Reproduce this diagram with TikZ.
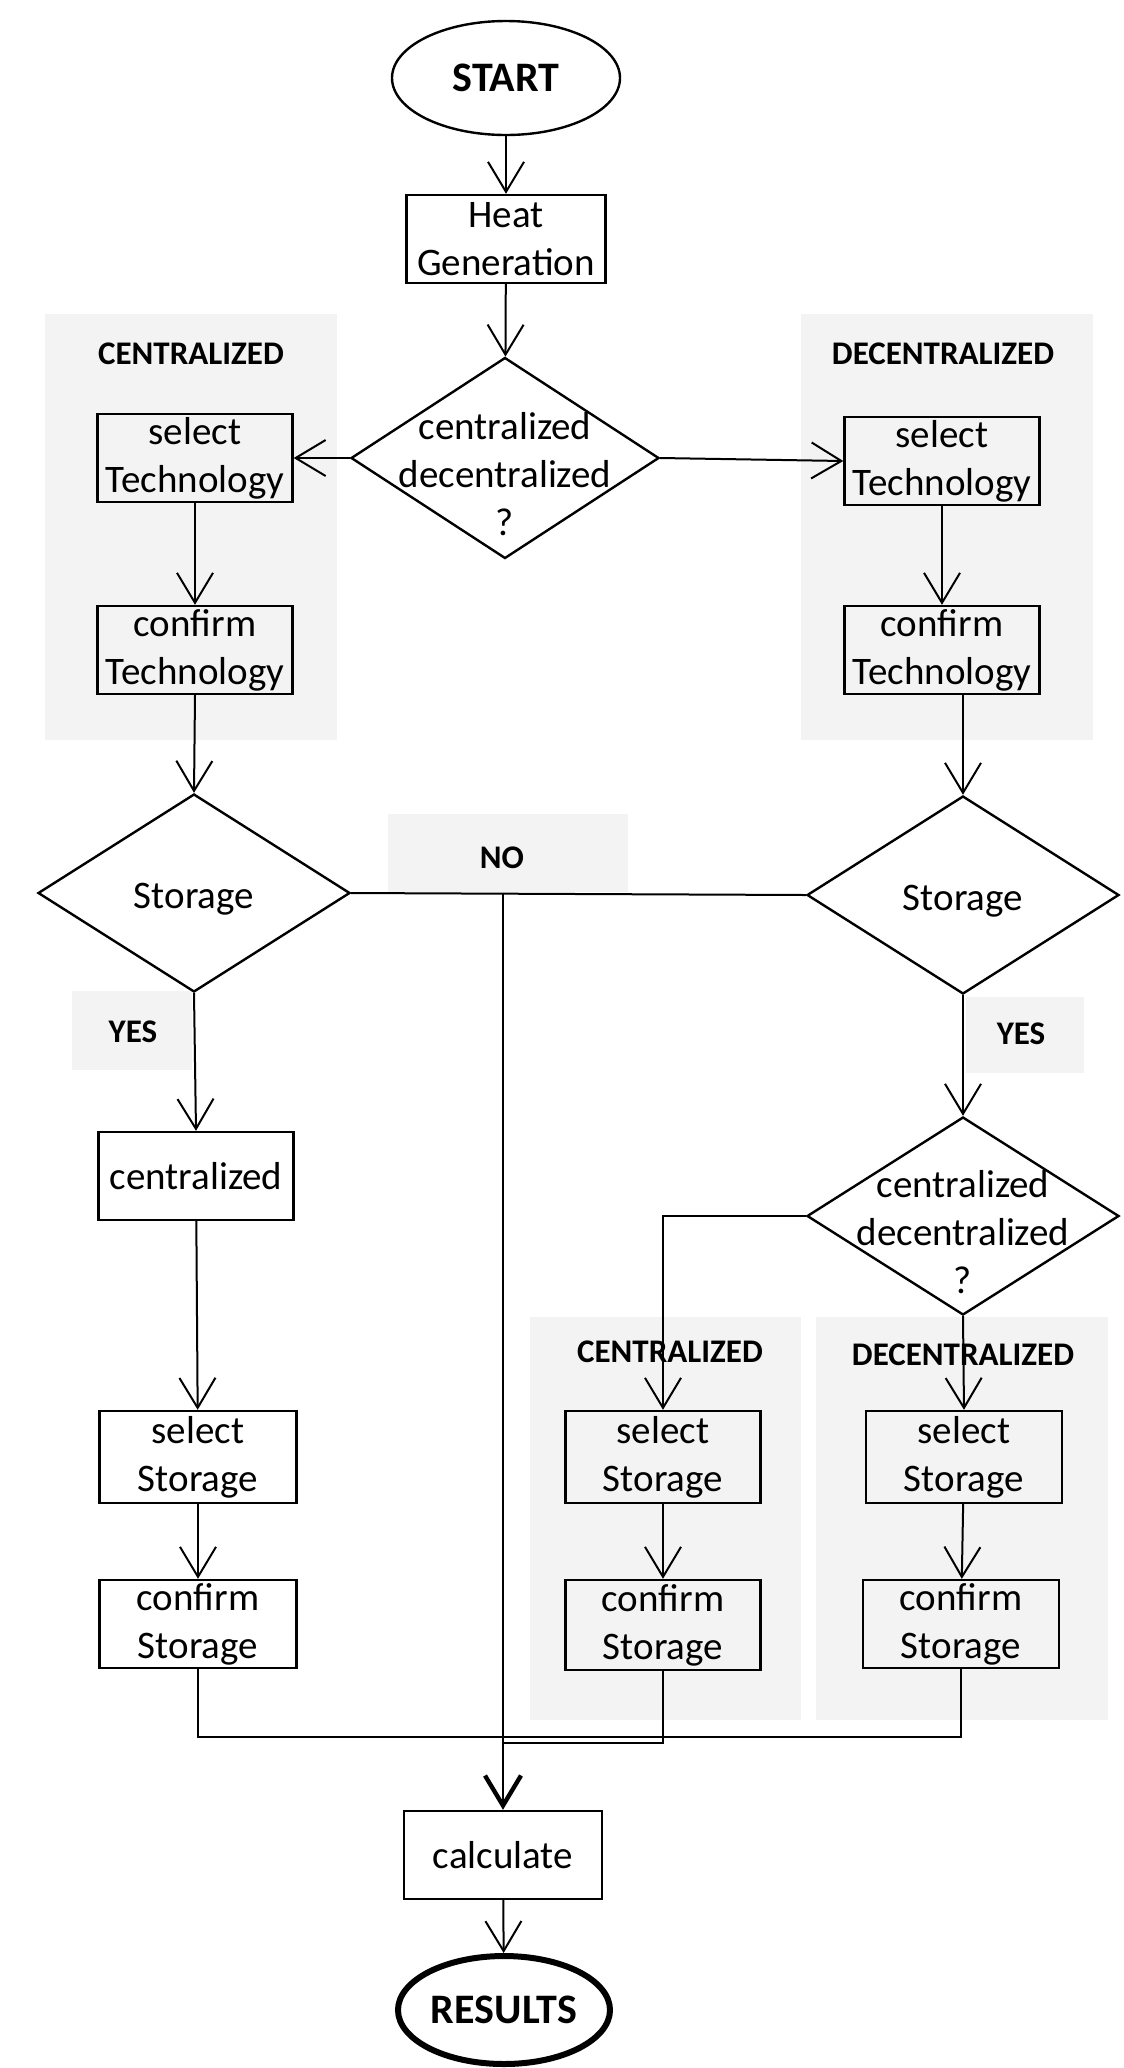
\documentclass[tikz,border=0pt]{standalone}
\usepackage{fontspec}
\setmainfont{Carlito}
\usetikzlibrary{shapes.geometric,arrows.meta}
\definecolor{panelgray}{RGB}{243,243,243}

\begin{document}
\begin{tikzpicture}[x=0.5pt,y=-0.5pt,
  every node/.style={font=\fontsize{19.5}{24}\selectfont},
  box/.style={draw,line width=1.2pt,minimum width=97.5pt,minimum height=44pt,inner sep=0pt,align=center},
  ask/.style={draw,diamond,line width=1.2pt,minimum width=156pt,minimum height=99pt,inner sep=0pt},
  term/.style={draw,ellipse,line width=1.2pt,minimum width=114pt,minimum height=57pt,inner sep=0pt,font=\bfseries\fontsize{21}{25}\selectfont},
  panel/.style={fill=panelgray},
  tag/.style={font=\bfseries\fontsize{16.5}{19}\selectfont},
  flow/.style={line width=1pt,-{Straight Barb[length=15pt,width=18pt]}},
  bigflow/.style={line width=1pt,-{Straight Barb[length=15pt,width=18pt,line width=2.2pt]}},
  line/.style={line width=1pt}]
% 1124px x 2068px, y runs downward
\useasboundingbox (0,0) rectangle (1124,2068);

% grey panels
\path[panel] (45,314) rectangle (337,740);
\path[panel] (801,314) rectangle (1093,740);
\path[panel] (388,814) rectangle (628,892);
\path[panel] (72,991) rectangle (192,1070);
\path[panel] (966,997) rectangle (1084,1073);
\path[panel] (530,1317) rectangle (801,1720);
\path[panel] (816,1317) rectangle (1108,1720);

\node[tag] (tagcl) at (191,354) {CENTRALIZED};
\node[tag] (tagdr) at (943,354) {DECENTRALIZED};
\node[tag] (tagno) at (502,858) {NO};
\node[tag] (tagyl) at (133,1032) {YES};
\node[tag] (tagyr) at (1021,1034) {YES};
\node[tag] (tagcm) at (670,1352) {CENTRALIZED};
\node[tag] (tagdm) at (963,1355) {DECENTRALIZED};

% main flow
\node[term] (start) at (506,78) {START};
\node[box,minimum width=99.5pt] (heat) at (506,239) {Heat\\Generation};
\node[ask,minimum width=154pt,minimum height=100.5pt,
  label={[align=center,yshift=-8pt]center:centralized\\decentralized\\?}] (way) at (505,458) {};

\node[box] (lseltech) at (195,458) {select\\Technology};
\node[box] (lcontech) at (195,650) {confirm\\Technology};
\node[box] (rseltech) at (942,461) {select\\Technology};
\node[box] (rcontech) at (942,650) {confirm\\Technology};

\node[ask,label={[yshift=-3pt]center:Storage}] (lstore) at (194,893) {};
\node[ask,label={[yshift=-3pt]center:Storage}] (rstore) at (963,895) {};

\node[box] (lcent) at (196,1176) {centralized};
\node[box,minimum width=98.5pt,minimum height=46pt] (lselstor) at (198,1457) {select\\Storage};
\node[box,minimum width=98.5pt,minimum height=44pt] (lconstor) at (198,1624) {confirm\\Storage};

\node[ask,label={[align=center,yshift=-8pt]center:centralized\\decentralized\\?}] (rway) at (963,1216) {};
\node[box,minimum width=97.5pt,minimum height=46pt] (mselstor) at (663,1457) {select\\Storage};
\node[box,minimum width=97.5pt,minimum height=45pt] (mconstor) at (663,1625) {confirm\\Storage};
\node[box,minimum width=98pt,minimum height=46pt] (rselstor) at (964,1457) {select\\Storage};
\node[box,minimum width=98pt,minimum height=44pt] (rconstor) at (961,1624) {confirm\\Storage};

\node[box,minimum width=99pt] (calc) at (503,1855) {calculate};
\node[term,line width=3pt,minimum width=106pt,minimum height=54pt] (results) at (504,2010) {RESULTS};

\coordinate (join) at (calc.north |- 0,1743);

\draw[flow] (start) -- (heat);
\draw[flow] (heat) -- (way);
\draw[flow] (way.west) -- (lseltech.east);
\draw[flow] (way.east) -- (rseltech.west);
\draw[flow] (lseltech) -- (lcontech);
\draw[flow] (rseltech) -- (rcontech);
\draw[flow] (lcontech.south) -- (lstore.north);
\draw[flow] (rcontech.south -| rstore.north) -- (rstore.north);

% NO branch
\draw[line] (lstore.east) -- (rstore.west);
\draw[bigflow] (lstore.east -| calc.north) -- (calc.north);

% YES branches
\draw[flow] (lstore.south) -- (lcent.north);
\draw[flow] (lcent) -- (lselstor);
\draw[flow] (lselstor) -- (lconstor);
\draw[flow] (rstore.south) -- (rway.north);
\draw[flow] (rway.west) -| (mselstor.north);
\draw[flow] (rway.south) -- (rselstor.north);
\draw[flow] (mselstor) -- (mconstor);
\draw[flow] (rselstor) -- (rconstor);

% merge
\draw[line] (lconstor.south) -- ++(0,68) -| (rconstor.south);
\draw[line] (mconstor.south) |- (join);

\draw[flow] (calc) -- (results);
\end{tikzpicture}
\end{document}
